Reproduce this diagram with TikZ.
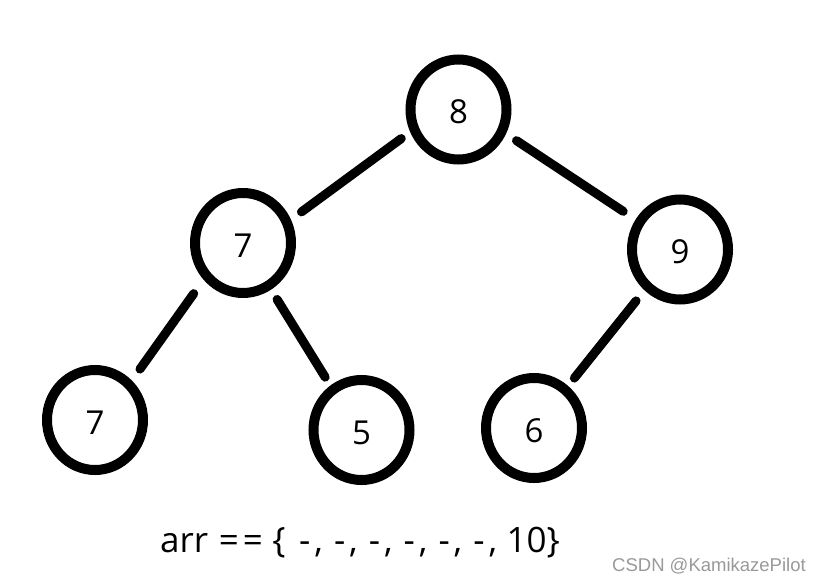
\documentclass[tikz,border=0pt]{standalone}
\usepackage{fontspec}
\setmainfont{Open Sans}
\newfontfamily\creditfont{Liberation Sans}
\usetikzlibrary{shapes.geometric}

\begin{document}
\begin{tikzpicture}[x=1pt, y=-1pt,
  heapnode/.style={ellipse, draw, line width=10pt, minimum width=96pt,
                   minimum height=100pt, inner sep=0pt,
                   text height=28.6pt, text depth=0pt,
                   font=\fontsize{33}{40}\selectfont},
  link/.style={line width=9pt, line cap=round},
  caption/.style={anchor=base west, inner sep=0pt,
                  font=\fontsize{35}{42}\selectfont},
  watermark/.style={anchor=base west, inner sep=0pt, text=black!40,
                    font=\creditfont\fontsize{18.5}{22}\selectfont},
]
  \useasboundingbox (0,0) rectangle (822,581);

  % the heap
  \node[heapnode] (root) at (458.5,109.5) {8};
  \node[heapnode] (left) at (243,243) {7};
  \node[heapnode] (right) at (680,249.5) {9};
  \node[heapnode] (leftleft) at (95,420) {7};
  \node[heapnode] (leftright) at (361.5,430) {5};
  \node[heapnode] (rightleft) at (534,428) {6};

  \draw[link, shorten <=11pt, shorten >=13pt] (root.205) -- (left.26);
  \draw[link, shorten <=12.5pt, shorten >=14.8pt] (root.333) -- (right.146);
  \draw[link, shorten <=17pt, shorten >=14pt] (left.223) -- (leftleft.47);
  \draw[link, shorten <=11.5pt, shorten >=9.8pt] (left.301) -- (leftright.125);
  \draw[link, shorten <=13.5pt, shorten >=10pt] (right.229) -- (rightleft.51);

  % array below
  \node[caption] (arr) at (160,552)
    {arr \kern1.5pt=\kern4pt= \kern0.4pt\{ \kern4.5pt-\kern3.9pt, \kern2pt-\kern3.9pt,
     \kern2pt-\kern3.9pt, \kern2pt-\kern3.9pt, \kern2pt-\kern3.9pt,
     \kern2pt-\kern3.9pt, \kern0.5pt10\}};
  \node[watermark] (credit) at (612,571) {CSDN @KamikazePilot};
\end{tikzpicture}
\end{document}
